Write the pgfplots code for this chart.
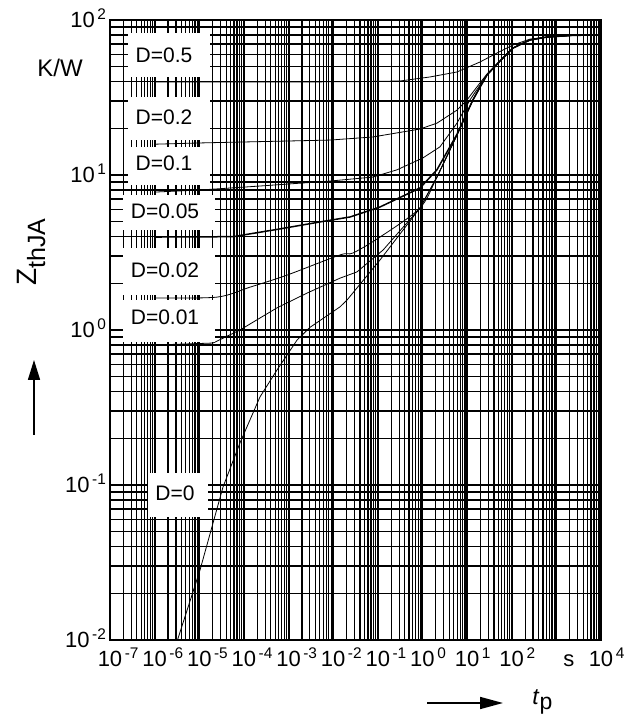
\documentclass[border=0pt]{standalone}
\usepackage{pgfplots}
\pgfplotsset{compat=1.18}
\usetikzlibrary{arrows.meta}
\usepackage{fontspec}
\setmainfont{Liberation Sans}

\begin{document}
\begin{tikzpicture}
\begin{axis}[
  name=ax,
  scale only axis,
  width=245.5pt, height=310pt,
  xmode=log, ymode=log,
  xmin=1e-7, xmax=1e4, ymin=1e-2, ymax=1e2,
  xtick={1e-7,1e-6,1e-5,1e-4,1e-3,1e-2,1e-1,1,10,100,1000,10000},
  xticklabels={10\rlap{\textsuperscript{\,-7}},10\rlap{\textsuperscript{\,-6}},10\rlap{\textsuperscript{\,-5}},
    10\rlap{\textsuperscript{\,-4}},10\rlap{\textsuperscript{\,-3}},10\rlap{\textsuperscript{\,-2}},
    10\rlap{\textsuperscript{\,-1}},10\rlap{\textsuperscript{\,0}},10\rlap{\textsuperscript{\,1}},
    10\rlap{\textsuperscript{\,2}},\rlap{\hspace{3.5pt}s},10\rlap{\textsuperscript{\,4}}},
  ytick={1e-2,1e-1,1,10,100},
  yticklabels={10\textsuperscript{\,-2},10\textsuperscript{\,-1},10\textsuperscript{\,0},
    10\textsuperscript{\,1},10\textsuperscript{\,2}},
  grid=both,
  major grid style={black, line width=1pt},
  minor grid style={black, line width=0.6pt},
  axis line style={black, line width=0.8pt},
  major tick length=0pt, minor tick length=0pt,
  tick label style={font=\fontsize{11}{13}\selectfont},
  xticklabel style={anchor=base, yshift=-13pt},
  yticklabel style={anchor=base east, yshift=-3.9pt, xshift=2pt},
  cycle list={{black, solid, mark=none, line width=0.75pt, smooth, tension=0.4}},
]
% D = 0.5
\addplot coordinates {(1e-6,39.8) (1e-3,39.8) (3e-2,40.0) (0.313,40.4) (1.47,42.9) (5.93,46.2)
  (19.5,53.6) (46.7,61.2) (107,69.0) (256,75.3) (617,77.6) (2020,79.5) (5660,80.0)};
% D = 0.2
\addplot coordinates {(1e-6,15.8) (1.04e-5,16.1) (8.47e-3,16.8) (7.8e-2,17.6) (0.879,19.8)
  (2.11,21.6) (5.93,26.2) (9.93,30.5) (19.5,39.3) (27.9,44.8) (63.7,57.2) (107,66.0)
  (256,74.3) (617,77.6) (2020,79.4) (5660,80.0)};
% D = 0.1
\addplot coordinates {(1e-6,7.76) (1.04e-5,8.00) (2.29e-4,8.49) (8.47e-3,9.14) (7.8e-2,9.70)
  (0.269,10.8) (1.03,12.9) (2.47,15.2) (5.93,21.6) (11.6,30.5) (19.5,38.1) (27.9,44.4)
  (63.7,56.9) (107,65.9) (256,74.3) (617,77.6) (2020,79.4) (5660,80.0)};
% D = 0.05
\addplot coordinates {(1e-6,3.98) (5.69e-5,4.00) (6.43e-4,4.49) (5.06e-3,4.98) (2.38e-2,5.36)
  (0.112,6.22) (0.879,8.24) (2.11,10.8) (5.93,18.3) (13.5,30.5) (27.9,44.2) (63.7,56.9)
  (107,65.9) (256,74.3) (617,77.6) (2020,79.4) (5660,80.0)};
% D = 0.02
\addplot coordinates {(1e-6,1.61) (2.49e-5,1.63) (1.37e-4,1.89) (9.23e-4,2.26) (1.42e-2,3.05)
  (2.77e-2,3.14) (0.112,3.98) (0.879,6.12) (2.11,9.70) (5.93,18.1) (13.5,30.5) (27.9,44.2)
  (63.7,56.9) (107,65.9) (256,74.3) (617,77.6) (2020,79.4) (5660,80.0)};
% D = 0.01
\addplot coordinates {(1e-6,0.80) (2.03e-5,0.824) (8.17e-5,1.00) (5.51e-4,1.39) (2.59e-3,1.73)
  (1.42e-2,2.16) (3.41e-2,2.37) (0.131,3.28) (0.879,6.12) (2.11,9.70) (5.93,18.1) (13.5,30.5)
  (27.9,44.2) (63.7,56.9) (107,65.9) (256,74.3) (617,77.6) (2020,79.4) (5660,80.0)};
% D = 0
\addplot coordinates {(3.0e-6,0.0093) (1.04e-5,0.0283) (3.40e-5,0.0970) (8.17e-5,0.187)
  (2.29e-4,0.370) (5.51e-4,0.552) (1.55e-3,0.861) (3.02e-3,1.04) (1.42e-2,1.41) (2.04e-2,1.56)
  (0.112,2.83) (0.879,6.12) (2.11,9.70) (5.93,18.1) (13.5,30.5) (27.9,44.2) (63.7,56.9)
  (107,65.9) (256,74.3) (617,77.6) (2020,79.4) (5660,80.0)};
\end{axis}

% annotations, in pixel units of the reference (origin top left)
\begin{scope}[shift={(ax.south west)}, x=0.5pt, y=-0.5pt, shift={(-110,-640)},
  every node/.style={font=\fontsize{10.5}{12}\selectfont, inner sep=0pt}]
\path (0,0) rectangle (642,718);
\fill[white] (128,33) rectangle (210,77);
\fill[white] (128,97) rectangle (210,140);
\fill[white] (128,147) rectangle (210,185);
\fill[white] (123,195) rectangle (215,230);
\fill[white] (123,248) rectangle (215,295);
\fill[white] (123,300) rectangle (215,342);
\fill[white] (148,473) rectangle (208,517);
\node at (164,55) {D=0.5};
\node at (164,117) {D=0.2};
\node at (164,163) {D=0.1};
\node at (165,211) {D=0.05};
\node at (165,270) {D=0.02};
\node at (165,317) {D=0.01};
\node at (175,493) {D=0};
\node[font=\fontsize{12}{14}\selectfont] at (60,68) {K/W};
\node[rotate=90, font=\fontsize{14}{16}\selectfont] at (31,252)
  {Z{\fontsize{12.5}{14}\selectfont\raisebox{-4.5pt}{thJA}}};
\draw[line width=0.8pt, -{Triangle[length=10pt,width=6pt]}] (34,435) -- (34,360);
\draw[line width=0.8pt, -{Triangle[length=11.5pt,width=6pt]}] (427,703) -- (503,703);
\node[anchor=base west, font=\fontsize{11.5}{13}\selectfont] at (532,705) {\textit{t}\raisebox{-2pt}{p}};
\end{scope}
\end{tikzpicture}
\end{document}
